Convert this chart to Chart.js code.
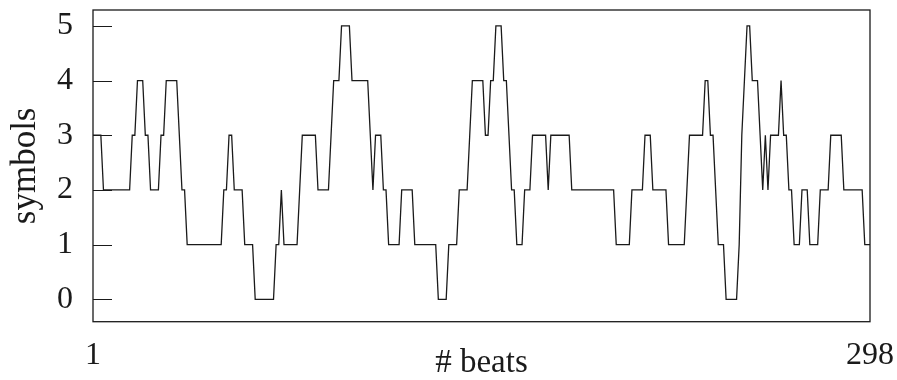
<!DOCTYPE html>
<html>
<head>
<meta charset="utf-8">
<title>symbols per beat</title>
<script src="https://cdn.jsdelivr.net/npm/chart.js@4.4.1/dist/chart.umd.min.js"></script>
<style>
  html, body { margin: 0; padding: 0; background: #fff; }
  #wrap { width: 897px; height: 380px; }
</style>
</head>
<body>
<div id="wrap"><canvas id="beatChart" width="897" height="380"></canvas></div>
<script>
// symbol count per beat, beats 1..298
const symbols = [
  3,3,3,3,2,2,2,2,2,2,  2,2,2,2,2,3,3,4,4,4,
  3,3,2,2,2,2,3,3,4,4,  4,4,4,3,2,2,1,1,1,1,
  1,1,1,1,1,1,1,1,1,1,  2,2,3,3,2,2,2,2,1,1,
  1,1,0,0,0,0,0,0,0,0,  1,1,2,1,1,1,1,1,1,2,
  3,3,3,3,3,3,2,2,2,2,  2,3,4,4,4,5,5,5,5,4,
  4,4,4,4,4,4,3,2,3,3,  3,2,2,1,1,1,1,1,2,2,
  2,2,2,1,1,1,1,1,1,1,  1,1,0,0,0,0,1,1,1,1,
  2,2,2,2,3,4,4,4,4,4,  3,3,4,4,5,5,5,4,4,3,
  2,2,1,1,1,2,2,2,3,3,  3,3,3,3,2,3,3,3,3,3,
  3,3,3,2,2,2,2,2,2,2,  2,2,2,2,2,2,2,2,2,2,
  1,1,1,1,1,1,2,2,2,2,  2,3,3,3,2,2,2,2,2,2,
  1,1,1,1,1,1,1,2,3,3,  3,3,3,3,4,4,3,3,2,1,
  1,1,0,0,0,0,0,1,3,4,  5,5,4,4,4,3,2,3,2,3,
  3,3,3,4,3,3,2,2,1,1,  1,2,2,2,1,1,1,1,2,2,
  2,2,3,3,3,3,3,2,2,2,  2,2,2,2,2,1,1,1
];
const beatTicks = [1, 298];
const symbolTicks = [0, 1, 2, 3, 4, 5];

const serif = "'Liberation Serif', 'Times New Roman', serif";
const ink = '#1a1a1a';

// no extra room for edge labels, layout.padding decides the plot box
function noEdgePadding(axis) {
  axis.paddingTop = 0;
  axis.paddingBottom = 0;
  axis.paddingLeft = 0;
  axis.paddingRight = 0;
}

// frame around the plot and short inward ticks on the y axis
const framePlugin = {
  id: 'frame',
  afterDatasetsDraw(chart) {
    const { ctx, chartArea: a, scales } = chart;
    ctx.save();
    ctx.strokeStyle = ink;
    ctx.lineWidth = 1.3;
    ctx.strokeRect(a.left, a.top, a.right - a.left, a.bottom - a.top);
    ctx.beginPath();
    symbolTicks.forEach(v => {
      const y = Math.round(scales.y.getPixelForValue(v)) + 0.5;
      ctx.moveTo(a.left, y);
      ctx.lineTo(a.left + 19, y);
    });
    ctx.lineWidth = 1.2;
    ctx.stroke();
    ctx.restore();
  }
};

new Chart(document.getElementById('beatChart'), {
  type: 'line',
  data: {
    datasets: [{
      data: symbols.map((s, i) => ({ x: i + 1, y: s })),
      borderColor: ink,
      borderWidth: 1.3,
      pointRadius: 0,
      tension: 0,
      fill: false
    }]
  },
  options: {
    responsive: false,
    animation: false,
    devicePixelRatio: 1,
    layout: { padding: { top: 10, right: 27, bottom: 0, left: 0 } },
    plugins: { legend: { display: false }, tooltip: { enabled: false } },
    scales: {
      x: {
        type: 'linear',
        min: 1,
        max: 298,
        afterBuildTicks: axis => { axis.ticks = beatTicks.map(v => ({ value: v })); },
        afterFit: axis => { axis.height = 58.3; noEdgePadding(axis); },
        grid: { display: false, drawTicks: false },
        border: { display: false },
        ticks: {
          autoSkip: false,
          maxRotation: 0,
          padding: 15,
          color: ink,
          font: { family: serif, size: 32 }
        },
        title: {
          display: true,
          text: '# beats',
          color: ink,
          padding: 0,
          font: { family: serif, size: 33, lineHeight: 1 }
        }
      },
      y: {
        min: -0.41,
        max: 5.29,
        afterBuildTicks: axis => { axis.ticks = symbolTicks.map(v => ({ value: v })); },
        afterFit: axis => { axis.width = 93; noEdgePadding(axis); },
        grid: { display: false, drawTicks: false },
        border: { display: false },
        ticks: {
          padding: 20,
          color: ink,
          font: { family: serif, size: 32 }
        },
        title: {
          display: true,
          text: 'symbols',
          color: ink,
          padding: { top: 8 },
          font: { family: serif, size: 35, lineHeight: 1 }
        }
      }
    }
  },
  plugins: [framePlugin]
});
</script>
</body>
</html>
